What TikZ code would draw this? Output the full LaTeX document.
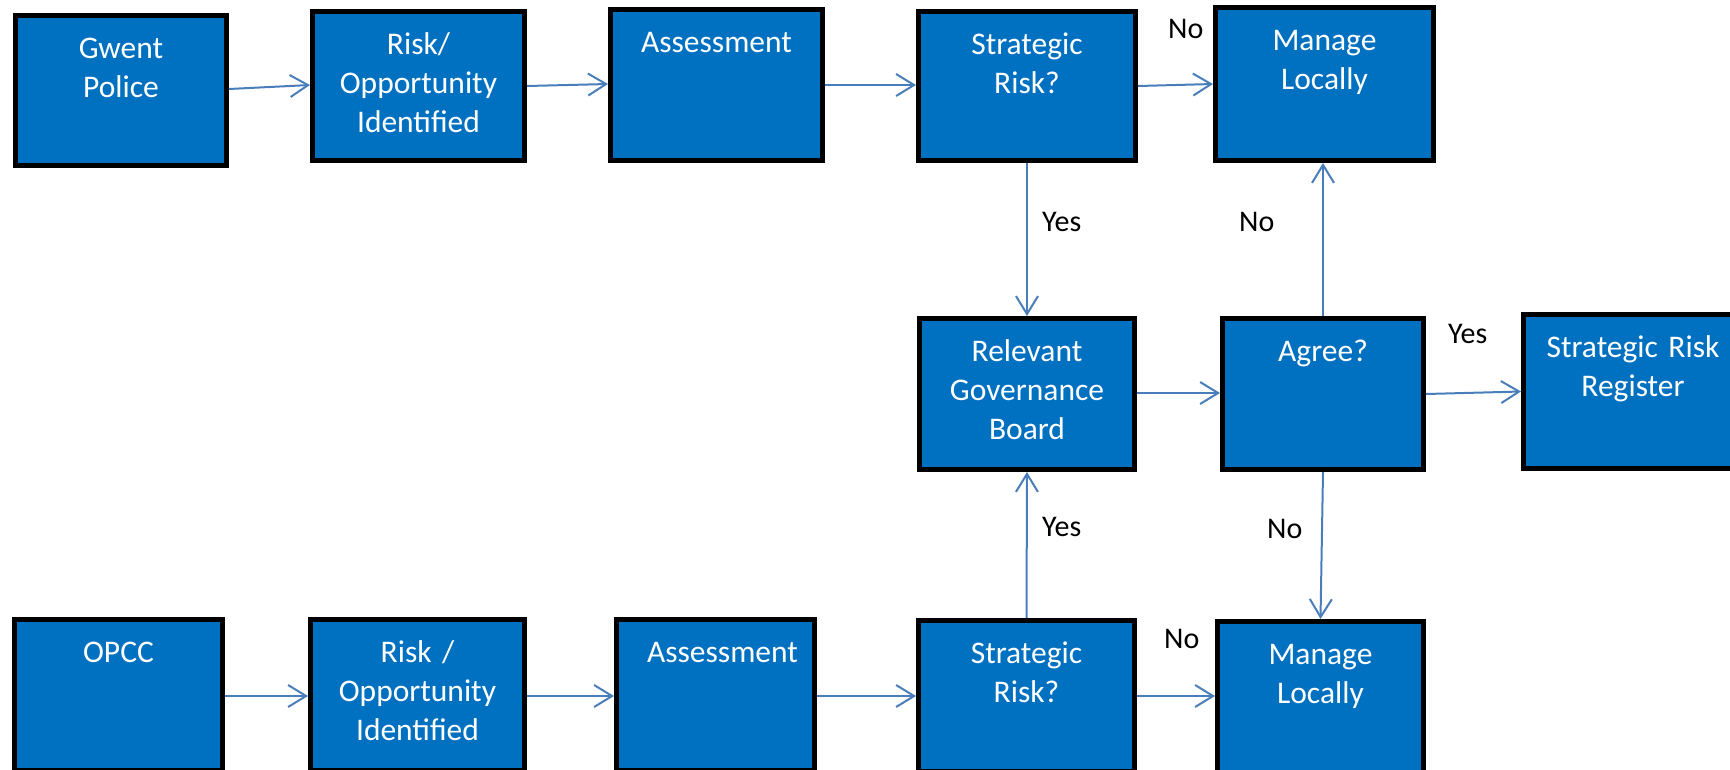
\documentclass[tikz,border=0pt]{standalone}
\usepackage{fontspec}
\setmainfont{Carlito}
\usetikzlibrary{arrows.meta,calc}
\definecolor{boxblue}{HTML}{0070C0}
\definecolor{arrowblue}{HTML}{4A7EBB}
\begin{document}
\begin{tikzpicture}[x=1pt,y=-1pt,
  box/.style={draw=black, line width=5pt, fill=boxblue, inner sep=0pt},
  boxtext/.style={text=white, anchor=base, align=center, inner sep=0pt, text width=210pt,
    font=\fontsize{31.5}{39}\selectfont},
  lbl/.style={anchor=base west, inner sep=0pt, text=black, font=\fontsize{30}{36}\selectfont},
  conn/.style={draw=arrowblue, line width=2pt, -{Straight Barb[length=18pt,width=22pt]}}]
\useasboundingbox (0,0) rectangle (1730,769);
\clip (0,0) rectangle (1730,769);
% top row
\node[box, minimum width=211pt, minimum height=150pt] (gp) at (121,90.5) {};
\node[box, minimum width=212pt, minimum height=149pt] (ri1) at (418.5,86) {};
\node[box, minimum width=212pt, minimum height=151pt] (as1) at (716.5,85) {};
\node[box, minimum width=217pt, minimum height=149pt] (sr1) at (1027,86) {};
\node[box, minimum width=218pt, minimum height=153pt] (ml1) at (1324.5,84) {};
% middle row
\node[box, minimum width=215pt, minimum height=151pt] (rgb) at (1027,394) {};
\node[box, minimum width=201pt, minimum height=151pt] (ag) at (1323,394) {};
\node[box, minimum width=219pt, minimum height=154pt] (srr) at (1633,391.5) {};
% bottom row
\node[box, minimum width=208pt, minimum height=151pt] (opcc) at (118.5,695) {};
\node[box, minimum width=214pt, minimum height=151pt] (ri2) at (417.5,695) {};
\node[box, minimum width=198pt, minimum height=151pt] (as2) at (715.5,695) {};
\node[box, minimum width=216pt, minimum height=151pt] (sr2) at (1026.5,696) {};
\node[box, minimum width=206pt, minimum height=151pt] (ml2) at (1320.5,697) {};
% box texts
\node[boxtext] (gp-t) at ($(gp.north)+(0,45)$) {Gwent\\Police};
\node[boxtext] (ri1-t) at ($(ri1.north)+(0,45)$) {Risk/\\Opportunity\\Identified};
\node[boxtext] (as1-t) at ($(as1.north)+(0,45)$) {Assessment};
\node[boxtext] (sr1-t) at ($(sr1.north)+(0,45)$) {Strategic\\Risk?};
\node[boxtext] (ml1-t) at ($(ml1.north)+(0,45)$) {Manage\\Locally};
\node[boxtext] (rgb-t) at ($(rgb.north)+(0,45)$) {Relevant\\Governance\\Board};
\node[boxtext] (ag-t) at ($(ag.north)+(0,45)$) {Agree?};
\node[boxtext] (srr-t) at ($(srr.north)+(0,45)$) {Strategic Risk\\Register};
\node[boxtext] (opcc-t) at ($(opcc.north)+(0,45)$) {OPCC};
\node[boxtext] (ri2-t) at ($(ri2.north)+(0,45)$) {Risk /\\Opportunity\\Identified};
\node[boxtext] (as2-t) at ($(as2.north)+(7,45)$) {Assessment};
\node[boxtext] (sr2-t) at ($(sr2.north)+(0,45)$) {Strategic\\Risk?};
\node[boxtext] (ml2-t) at ($(ml2.north)+(0,45)$) {Manage\\Locally};
% connectors
\draw[conn] ($(gp.east)+(0,-1.5)$) -- ($(ri1.west)+(0,-1)$);
\draw[conn] (ri1.east) -- ($(as1.west)+(0,-1)$);
\draw[conn] (as1.east) -- ($(sr1.west)+(0,-1)$);
\draw[conn] (sr1.east) -- (ml1.west);
\draw[conn] (sr1.south) -- (rgb.north);
\draw[conn] (ag.north) -- ($(ml1.south)+(-1.5,0)$);
\draw[conn] ($(rgb.east)+(0,-1)$) -- ($(ag.west)+(0,-1)$);
\draw[conn] (ag.east) -- (srr.west);
\draw[conn] (ag.south) -- (ml2.north);
\draw[conn] (sr2.north) -- (rgb.south);
\draw[conn] ($(opcc.east)+(0,1)$) -- ($(ri2.west)+(0,1)$);
\draw[conn] ($(ri2.east)+(0,1)$) -- ($(as2.west)+(0,1)$);
\draw[conn] ($(as2.east)+(0,1)$) -- (sr2.west);
\draw[conn] (sr2.east) -- ($(ml2.west)+(0,-1)$);
% labels
\node[lbl] (no1) at (1168,38.3) {No};
\node[lbl] (yes1) at (1042,231.7) {Yes};
\node[lbl] (no2) at (1239,231.7) {No};
\node[lbl] (yes2) at (1448,343.3) {Yes};
\node[lbl] (yes3) at (1042,536.7) {Yes};
\node[lbl] (no3) at (1267,538) {No};
\node[lbl] (no4) at (1164,648.3) {No};
\end{tikzpicture}
\end{document}
